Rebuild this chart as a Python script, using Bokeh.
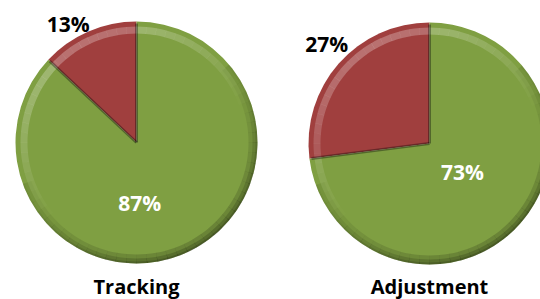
import math
from bokeh.plotting import figure
from bokeh.models import Range1d
from bokeh.core.properties import value
from bokeh.embed import file_html
from bokeh.resources import INLINE

# ---- data ----
categories = ["Tracking", "Adjustment"]
red_pct = [13, 27]
green_pct = [87, 73]

# ---- layout (screen-pixel-like data space) ----
W, H = 540, 299
centers_x = [136, 429]
centers_y = [299 - 142, 299 - 143]
R = 121
label_red_pos = [(120, 1.13), (136, 1.18)]    # (angle deg, radius fraction)
label_green_pos = [(-87, 0.50), (-41, 0.36)]

GREEN = "#7f9f42"
RED = "#a03f3e"
FONT = value("Open Sans")

p = figure(width=W, height=H, output_backend="svg", toolbar_location=None,
           x_range=Range1d(0, W), y_range=Range1d(299 - H, 299),
           min_border=0)
p.axis.visible = False
p.grid.visible = False
p.outline_line_color = None
p.background_fill_color = "white"

NSEG = 72
LIGHT = math.radians(120)

for i, cat in enumerate(categories):
    cx, cy = centers_x[i], centers_y[i]
    tot = red_pct[i] + green_pct[i]
    a0 = math.pi / 2
    a1 = a0 + 2 * math.pi * red_pct[i] / tot
    p.wedge(x=cx, y=cy, radius=R, start_angle=a0, end_angle=a1,
            fill_color=RED, line_color=None)
    p.wedge(x=cx, y=cy, radius=R, start_angle=a1, end_angle=a0 + 2 * math.pi,
            fill_color=GREEN, line_color=None)
    # bevel rim shading, angle dependent
    for s in range(NSEG):
        t0 = 2 * math.pi * s / NSEG
        t1 = 2 * math.pi * (s + 1) / NSEG + 0.002
        c = math.cos((t0 + t1) / 2 - LIGHT)
        if c < 0.2:
            dark = 0.10 + 0.40 * max(0.0, -c)
            for k, (ri, ro) in enumerate([(R - 9, R), (R - 5, R), (R - 2, R)]):
                p.annular_wedge(x=cx, y=cy, inner_radius=ri, outer_radius=ro,
                                start_angle=t0, end_angle=t1,
                                fill_color="black", fill_alpha=dark / 3,
                                line_color=None)
        if c > -0.2:
            lite = 0.22 * max(0.0, c + 0.2)
            p.annular_wedge(x=cx, y=cy, inner_radius=R - 12, outer_radius=R - 5,
                            start_angle=t0, end_angle=t1,
                            fill_color="white", fill_alpha=lite,
                            line_color=None)
    # slice boundaries
    for a in (a0, a1):
        p.segment(x0=cx, y0=cy, x1=cx + (R - 2) * math.cos(a),
                  y1=cy + (R - 2) * math.sin(a),
                  line_color="black", line_alpha=0.35, line_width=3)

    # labels
    ang, fr = label_red_pos[i]
    p.text(x=[cx + fr * R * math.cos(math.radians(ang))],
           y=[cy + fr * R * math.sin(math.radians(ang))],
           text=[f"{red_pct[i]}%"], text_font=FONT, text_font_style="bold",
           text_font_size="21px", text_color="black",
           text_align="center", text_baseline="middle")
    ang, fr = label_green_pos[i]
    p.text(x=[cx + fr * R * math.cos(math.radians(ang))],
           y=[cy + fr * R * math.sin(math.radians(ang))],
           text=[f"{green_pct[i]}%"], text_font=FONT, text_font_style="bold",
           text_font_size="21px", text_color="white",
           text_align="center", text_baseline="middle")
    p.text(x=[cx], y=[299 - 286], text=[cat], text_font=FONT,
           text_font_style="bold", text_font_size="20px", text_color="black",
           text_align="center", text_baseline="middle")

open("out.html", "w").write(file_html(p, INLINE))
